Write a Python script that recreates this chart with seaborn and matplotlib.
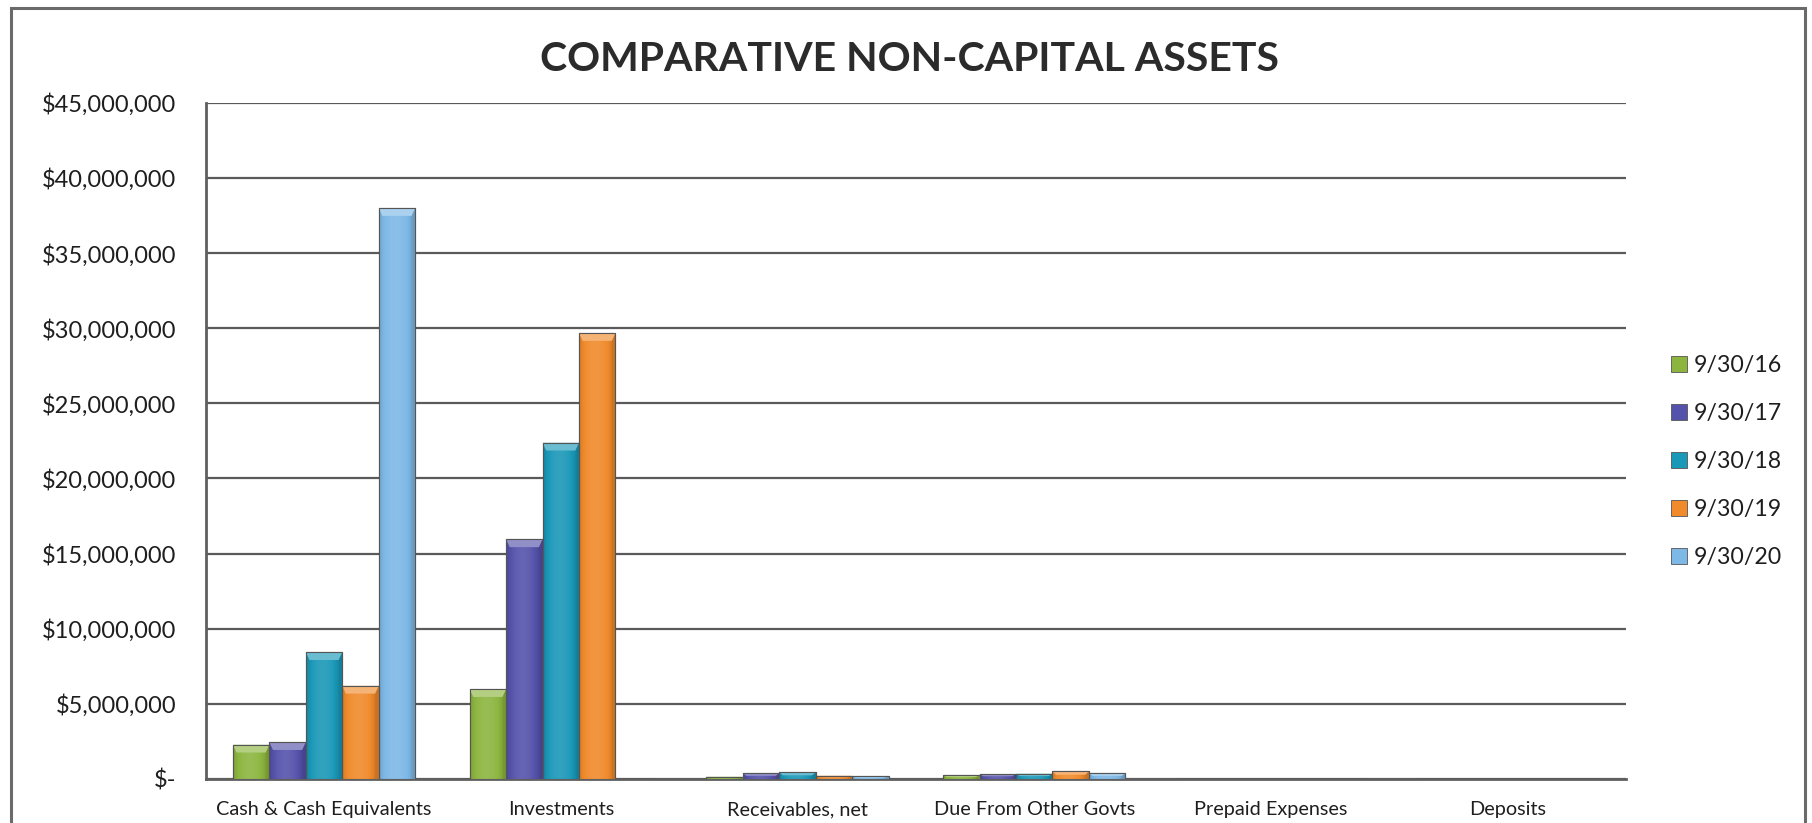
import numpy as np
import pandas as pd
import matplotlib
matplotlib.use("Agg")
import matplotlib.pyplot as plt
from matplotlib.ticker import FuncFormatter, MultipleLocator
from matplotlib.colors import to_rgb
from matplotlib.patches import Rectangle, Polygon
import seaborn as sns

# ---- data -------------------------------------------------------------
categories = ["Cash & Cash Equivalents", "Investments", "Receivables, net",
              "Due From Other Govts", "Prepaid Expenses", "Deposits"]
periods = ["9/30/16", "9/30/17", "9/30/18", "9/30/19", "9/30/20"]
fy16 = [2_280_000, 5_980_000, 150_000, 240_000, 0, 0]
fy17 = [2_450_000, 15_950_000, 380_000, 330_000, 0, 0]
fy18 = [8_440_000, 22_380_000, 440_000, 350_000, 0, 0]
fy19 = [6_200_000, 29_680_000, 220_000, 510_000, 0, 0]
fy20 = [38_000_000, 0, 170_000, 380_000, 0, 0]
colors = ["#8cb53f", "#5552ab", "#1a98b8", "#f08a2b", "#7db8e6"]

series = [fy16, fy17, fy18, fy19, fy20]
df = pd.DataFrame(
    [(c, p, v) for p, vals in zip(periods, series) for c, v in zip(categories, vals)],
    columns=["category", "period", "value"],
)

# ---- figure -----------------------------------------------------------
sns.set_theme(style="white")
plt.rcParams["font.family"] = ["Lato", "DejaVu Sans"]

fig = plt.figure(figsize=(18.12, 8.23), dpi=100)
ax = fig.add_axes([0.1135, 0.0535, 0.7839, 0.8215])

sns.barplot(data=df, x="category", y="value", hue="period", order=categories,
            hue_order=periods, palette=colors, saturation=1, width=0.77,
            ax=ax, legend=False, linewidth=0.8, edgecolor="#4a4a4a", zorder=3)


def shade(rgb, f):
    rgb = np.array(rgb)
    if f >= 1:
        return rgb + (1 - rgb) * (f - 1)
    return rgb * f


# bevelled look: horizontal shading plus a lighter cap on top of each bar
cap = 520_000
for cont, col in zip(ax.containers, colors):
    base = to_rgb(col)
    for bar in cont:
        x0, w, h = bar.get_x(), bar.get_width(), bar.get_height()
        if h <= 0:
            continue
        t = np.linspace(0, 1, 60)
        prof = 0.84 + 0.26 * np.sin(np.pi * np.clip(t * 1.1, 0, 1)) ** 0.6
        img = np.array([[shade(base, f) for f in prof]])
        im = ax.imshow(img, extent=[x0, x0 + w, 0, h], aspect="auto",
                       zorder=3.1, interpolation="bicubic")
        im.set_clip_path(bar)
        ch = min(cap, h * 0.45)
        inset = w * 0.1
        top = Polygon([(x0, h), (x0 + w, h), (x0 + w - inset, h - ch),
                       (x0 + inset, h - ch)], closed=True,
                      facecolor=shade(base, 1.35), edgecolor="none", zorder=3.2)
        ax.add_patch(top)
        ax.add_patch(Rectangle((x0, 0), w, h, facecolor="none",
                               edgecolor="#555555", lw=0.8, zorder=3.3))

ax.set_xlim(-0.5, len(categories) - 0.5)
ax.set_ylim(0, 45_000_000)
ax.yaxis.set_major_locator(MultipleLocator(5_000_000))


def money(v, _):
    return "$-" if v == 0 else f"${v:,.0f}"


ax.yaxis.set_major_formatter(FuncFormatter(money))
ax.set_xlabel("")
ax.set_ylabel("")
ax.yaxis.grid(True, color="#5a5a5a", lw=1.6)
ax.set_axisbelow(True)
for s in ("top", "right"):
    ax.spines[s].set_visible(False)
for s in ("left", "bottom"):
    ax.spines[s].set_color("#5f5f5f")
    ax.spines[s].set_linewidth(2)
ax.tick_params(axis="y", length=0, pad=21, labelsize=17, labelcolor="#1e1e1e")
ax.tick_params(axis="x", length=0, pad=16, labelsize=14.3, labelcolor="#1e1e1e")

fig.text(0.502, 0.928, "COMPARATIVE NON-CAPITAL ASSETS", ha="center", va="center",
         fontsize=29.5, fontweight="bold", color="#2b2b2b")

handles = [Rectangle((0, 0), 1, 1, facecolor=c, edgecolor="#555555", lw=0.6)
           for c in colors]
fig.legend(handles, periods, loc="center left", bbox_to_anchor=(0.9105, 0.439),
           frameon=False, fontsize=16.7, handlelength=0.7, handleheight=0.7,
           handletextpad=0.3, labelspacing=1.17, labelcolor="#1e1e1e")

# outer chart frame
fig.patches.append(Rectangle((0.0061, -0.02), 0.9900, 1.0103, transform=fig.transFigure,
                             facecolor="none", edgecolor="#6a6a6a", lw=2.2))

fig.savefig("out.png", dpi=100)
